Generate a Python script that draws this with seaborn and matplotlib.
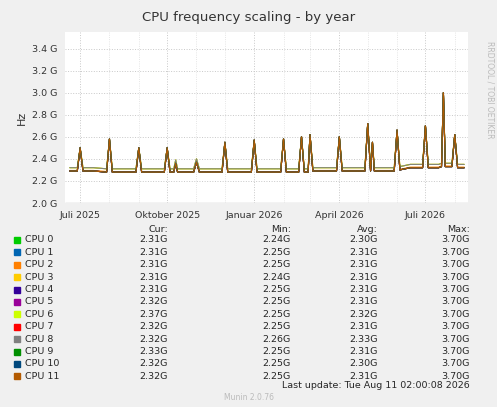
import matplotlib
matplotlib.use("Agg")
import matplotlib.pyplot as plt
import matplotlib.dates as mdates
import seaborn as sns
import pandas as pd

# Shared time axis (spike days included)
dates = ["2025-06-20", "2025-06-28", "2025-07-01", "2025-07-04", "2025-07-15", "2025-07-29",
         "2025-08-01", "2025-08-04", "2025-08-15", "2025-08-29", "2025-09-01", "2025-09-04",
         "2025-09-15", "2025-09-28", "2025-10-01", "2025-10-04", "2025-10-08", "2025-10-10",
         "2025-10-12", "2025-10-29", "2025-11-01", "2025-11-04", "2025-11-15", "2025-11-28",
         "2025-12-01", "2025-12-04", "2025-12-15", "2025-12-29", "2026-01-01", "2026-01-04",
         "2026-01-15", "2026-01-29", "2026-02-01", "2026-02-04", "2026-02-17", "2026-02-20",
         "2026-02-23", "2026-02-27", "2026-03-01", "2026-03-04", "2026-03-15", "2026-03-29",
         "2026-04-01", "2026-04-04", "2026-04-15", "2026-04-28", "2026-05-01", "2026-05-04",
         "2026-05-06", "2026-05-08", "2026-05-20", "2026-05-29", "2026-06-01", "2026-06-04",
         "2026-06-15", "2026-06-28", "2026-07-01", "2026-07-04", "2026-07-15", "2026-07-18",
         "2026-07-20", "2026-07-22", "2026-07-29", "2026-08-01", "2026-08-04", "2026-08-11"]

base = [2.29, 2.29, 2.50, 2.29, 2.29, 2.28, 2.58, 2.28, 2.28, 2.28, 2.50, 2.28,
        2.28, 2.28, 2.50, 2.28, 2.28, 2.36, 2.28, 2.28, 2.37, 2.28, 2.28, 2.28,
        2.55, 2.28, 2.28, 2.28, 2.57, 2.28, 2.28, 2.28, 2.58, 2.28, 2.28, 2.60,
        2.28, 2.28, 2.62, 2.29, 2.29, 2.29, 2.60, 2.29, 2.29, 2.29, 2.72, 2.29,
        2.55, 2.29, 2.29, 2.29, 2.66, 2.30, 2.32, 2.32, 2.70, 2.32, 2.32, 2.33,
        3.00, 2.33, 2.33, 2.62, 2.32, 2.32]

cpus = ["CPU 0", "CPU 1", "CPU 2", "CPU 3", "CPU 4", "CPU 5",
        "CPU 6", "CPU 7", "CPU 8", "CPU 9", "CPU 10", "CPU 11"]
offsets = [0.00, 0.00, 0.005, 0.03, 0.00, 0.00, 0.03, 0.00, 0.03, 0.00, 0.00, 0.00]
colors = ["#00CC00", "#0066B3", "#FF8000", "#FFCC00", "#330099", "#990099",
          "#CCFF00", "#FF0000", "#808080", "#008F00", "#00487D", "#B35A00"]
cur = ["2.31G", "2.31G", "2.31G", "2.31G", "2.31G", "2.32G", "2.37G", "2.32G", "2.32G", "2.33G", "2.32G", "2.32G"]
mins = ["2.24G", "2.25G", "2.25G", "2.24G", "2.25G", "2.25G", "2.25G", "2.25G", "2.26G", "2.25G", "2.25G", "2.25G"]
avgs = ["2.30G", "2.31G", "2.31G", "2.31G", "2.31G", "2.31G", "2.32G", "2.31G", "2.33G", "2.31G", "2.30G", "2.31G"]
maxs = ["3.70G"] * 12

rows = []
for cpu, off in zip(cpus, offsets):
    for d, v in zip(dates, base):
        rows.append({"date": pd.Timestamp(d), "cpu": cpu, "hz": v + (off if v < 2.4 else 0)})
df = pd.DataFrame(rows)

sns.set_style("white")
fig = plt.figure(figsize=(4.97, 4.07), dpi=100, facecolor="#F0F0F0")
ax = fig.add_axes([65 / 497, 1 - 203 / 407, 403 / 497, 171 / 407])
ax.set_facecolor("white")
sns.lineplot(data=df, x="date", y="hz", hue="cpu", palette=colors, linewidth=0.8, legend=False, ax=ax)

ax.set_ylim(2.0, 3.55)
ax.set_yticks([2.0, 2.2, 2.4, 2.6, 2.8, 3.0, 3.2, 3.4])
ax.set_yticklabels(["2.0 G", "2.2 G", "2.4 G", "2.6 G", "2.8 G", "3.0 G", "3.2 G", "3.4 G"])
ax.set_xlim(pd.Timestamp("2025-06-15"), pd.Timestamp("2026-08-15"))
ax.xaxis.set_major_locator(mdates.MonthLocator(bymonth=[1, 4, 7, 10]))
ax.xaxis.set_minor_locator(mdates.MonthLocator())
months = {1: "Januar", 4: "April", 7: "Juli", 10: "Oktober"}
ax.xaxis.set_major_formatter(plt.FuncFormatter(lambda x, p: f"{months[mdates.num2date(x).month]} {mdates.num2date(x).year}"))
ax.grid(True, which="major", color="#C8C8C8", linestyle=":", linewidth=0.7)
ax.grid(True, which="minor", axis="x", color="#DDDDDD", linestyle=":", linewidth=0.6)
ax.tick_params(labelsize=6.8, length=2, colors="#333333")
ax.set_xlabel("")
ax.set_ylabel("Hz", fontsize=8, color="#333333")
for s in ax.spines.values():
    s.set_visible(False)
ax.axhline(2.0, color="#333333", lw=0.8)

fig.text(0.5, 1 - 18 / 407, "CPU frequency scaling - by year", ha="center", va="center", fontsize=9.5, color="#333333")
fig.text(0.985, 0.78, "RRDTOOL / TOBI OETIKER", rotation=270, fontsize=5.5, color="#BBBBBB", ha="center", va="center")

fs = 6.8
def fy(px):
    return 1 - px / 407

for xr, lab in zip([168, 291, 378, 470], ["Cur:", "Min:", "Avg:", "Max:"]):
    fig.text(xr / 497, fy(229), lab, ha="right", va="center", fontsize=fs)
for i, cpu in enumerate(cpus):
    yp = 240 + i * 12.4
    fig.patches.append(plt.Rectangle((14 / 497, fy(yp + 3)), 6 / 497, 6 / 407,
                                     transform=fig.transFigure, color=colors[i]))
    fig.text(25 / 497, fy(yp), cpu, va="center", fontsize=fs)
    fig.text(168 / 497, fy(yp), cur[i], ha="right", va="center", fontsize=fs)
    fig.text(291 / 497, fy(yp), mins[i], ha="right", va="center", fontsize=fs)
    fig.text(378 / 497, fy(yp), avgs[i], ha="right", va="center", fontsize=fs)
    fig.text(470 / 497, fy(yp), maxs[i], ha="right", va="center", fontsize=fs)
fig.text(470 / 497, fy(385), "Last update: Tue Aug 11 02:00:08 2026", ha="right", va="center", fontsize=fs)
fig.text(0.5, fy(398), "Munin 2.0.76", ha="center", va="center", fontsize=5.5, color="#BBBBBB")

fig.savefig("out.png", dpi=100, facecolor=fig.get_facecolor())
